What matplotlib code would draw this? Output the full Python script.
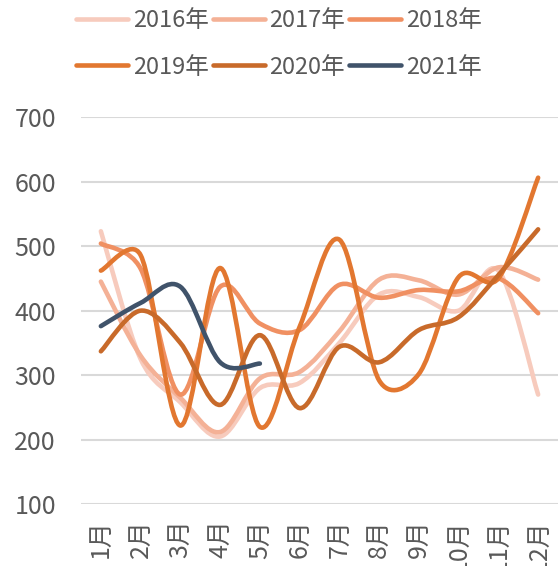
import math
import matplotlib
matplotlib.use('Agg')
import matplotlib.pyplot as plt
from matplotlib.path import Path
from matplotlib.patches import PathPatch
from matplotlib.lines import Line2D

plt.rcParams['font.family'] = ['Noto Sans CJK SC', 'DejaVu Sans']

months = ['1月', '2月', '3月', '4月', '5月', '6月', '7月', '8月', '9月', '10月', '11月', '12月']

y2016 = [523, 325, 258, 205, 280, 288, 350, 425, 421, 400, 462, 270]
y2017 = [445, 330, 265, 212, 295, 305, 368, 448, 447, 425, 467, 448]
y2018 = [504, 465, 270, 437, 380, 370, 440, 420, 432, 430, 450, 396]
y2019 = [462, 486, 222, 466, 220, 375, 510, 292, 302, 452, 450, 606]
y2020 = [337, 400, 350, 254, 362, 249, 344, 320, 370, 390, 455, 526]
y2021 = [376, 412, 437, 320, 318]

labels = ['2016年', '2017年', '2018年', '2019年', '2020年', '2021年']
series = [y2016, y2017, y2018, y2019, y2020, y2021]
colors = ['#F7CBBD', '#F4B196', '#F09062', '#E27730', '#C86A2A', '#40536A']

TEXT = '#595959'
GRID = '#D9D9D9'

# pixel size of one month / one unit, used to shape the curve like Excel does
SX = 39.75
SY = (504.3 - 117) / 600


def smooth_path(xs, ys):
    pts = [(x * SX, y * SY) for x, y in zip(xs, ys)]
    n = len(pts)

    def arm(a, b, seg):
        dx, dy = (b[0] - a[0]) / 6, (b[1] - a[1]) / 6
        d = math.hypot(dx, dy)
        lim = seg / 2
        if d > lim and d > 0:
            dx, dy = dx * lim / d, dy * lim / d
        return dx, dy

    verts = [pts[0]]
    codes = [Path.MOVETO]
    for i in range(n - 1):
        p0 = pts[i - 1] if i > 0 else pts[i]
        p1 = pts[i]
        p2 = pts[i + 1]
        p3 = pts[i + 2] if i + 2 < n else pts[i + 1]
        seg = math.hypot(p2[0] - p1[0], p2[1] - p1[1])
        a1 = arm(p0, p2, seg)
        a2 = arm(p1, p3, seg)
        c1 = (p1[0] + a1[0], p1[1] + a1[1])
        c2 = (p2[0] - a2[0], p2[1] - a2[1])
        verts += [c1, c2, p2]
        codes += [Path.CURVE4] * 3
    verts = [(x / SX, y / SY) for x, y in verts]
    return Path(verts, codes)


fig = plt.figure(figsize=(5.58, 5.66), dpi=100)
ax = fig.add_axes([81 / 558, 1 - 504.3 / 566, 477 / 558, (504.3 - 117) / 566])

lw = 3.3
for vals, col in zip(series, colors):
    xs = list(range(len(vals)))
    patch = PathPatch(smooth_path(xs, vals), facecolor='none', edgecolor=col,
                      lw=lw, capstyle='round', joinstyle='round', zorder=3)
    ax.add_patch(patch)

ax.set_xlim(-0.5, 11.5)
ax.set_ylim(100, 700)
ax.set_yticks(range(100, 701, 100))
ax.set_xticks(range(12))
ax.set_xticklabels(months, rotation=90)
ax.yaxis.grid(True, color=GRID, lw=1.5)
ax.set_axisbelow(True)
for s in ax.spines.values():
    s.set_visible(False)
ax.tick_params(axis='y', length=0, pad=18, labelsize=18, labelcolor=TEXT)
ax.tick_params(axis='x', length=0, pad=11, labelsize=18, labelcolor=TEXT)

# legend fills column by column, so reorder to read row by row
order = [0, 3, 1, 4, 2, 5]
handles = [Line2D([0], [0], color=colors[i], lw=lw, solid_capstyle='round') for i in order]
fig.legend(handles, [labels[i] for i in order], ncol=3, loc='upper left',
           bbox_to_anchor=(76 / 558, 1 - 9 / 566), frameon=False,
           borderpad=0, borderaxespad=0, fontsize=17, handlelength=2.2,
           handletextpad=0.2, columnspacing=0.17, labelspacing=1.0,
           labelcolor=TEXT)

fig.savefig('out.png', dpi=100)
plt.close(fig)
